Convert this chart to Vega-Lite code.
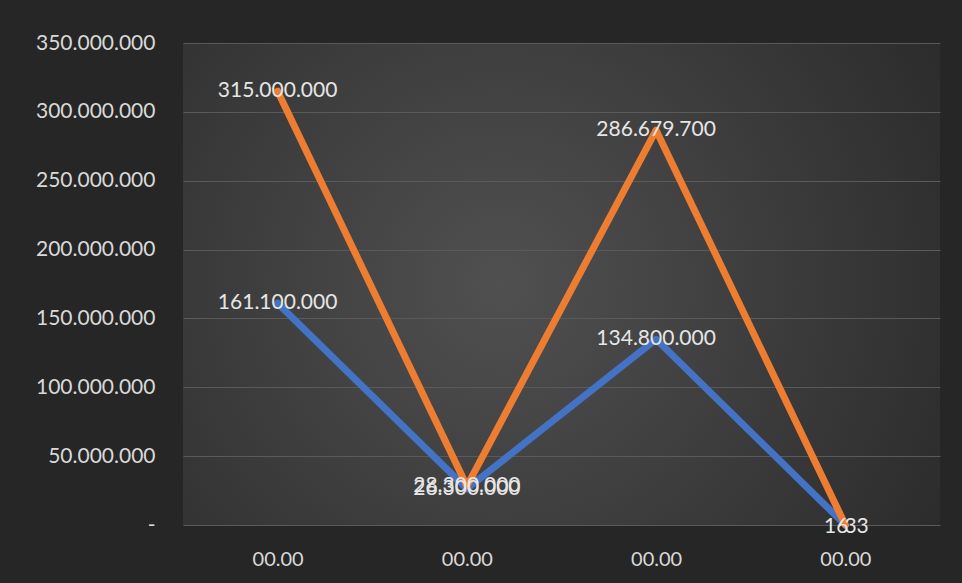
{
  "$schema": "https://vega.github.io/schema/vega-lite/v6.json",
  "width": 757,
  "height": 482,
  "autosize": {"type": "none"},
  "padding": {"left": 183, "top": 43, "right": 22, "bottom": 58},
  "background": "#262626",
  "config": {
    "view": {
      "stroke": null,
      "fill": {
        "gradient": "radial",
        "x1": 0.42, "y1": 0.5, "r1": 0,
        "x2": 0.42, "y2": 0.5, "r2": 0.75,
        "stops": [
          {"offset": 0, "color": "#505050"},
          {"offset": 1, "color": "#272727"}
        ]
      }
    },
    "font": "Lato"
  },
  "data": {
    "values": [
      {"idx": 1, "label": "00.00", "series": "A", "value": 161100000, "text": "161.100.000"},
      {"idx": 2, "label": "00.00", "series": "A", "value": 26300000, "text": "26.300.000"},
      {"idx": 3, "label": "00.00", "series": "A", "value": 134800000, "text": "134.800.000"},
      {"idx": 4, "label": "00.00", "series": "A", "value": 16, "text": "16"},
      {"idx": 1, "label": "00.00", "series": "B", "value": 315000000, "text": "315.000.000"},
      {"idx": 2, "label": "00.00", "series": "B", "value": 28300000, "text": "28.300.000"},
      {"idx": 3, "label": "00.00", "series": "B", "value": 286679700, "text": "286.679.700"},
      {"idx": 4, "label": "00.00", "series": "B", "value": 33, "text": "33"}
    ]
  },
  "encoding": {
    "x": {
      "field": "idx", "type": "ordinal",
      "scale": {"type": "point", "padding": 0.5},
      "axis": {
        "title": null, "labelExpr": "'00.00'", "labelAngle": 0,
        "ticks": false, "domain": false, "grid": false,
        "labelFontSize": 20, "labelColor": "#d9d9d9", "labelPadding": 24, "labelFont": "Lato"
      }
    },
    "y": {
      "field": "value", "type": "quantitative",
      "scale": {"domain": [0, 350000000], "nice": false},
      "axis": {
        "title": null, "values": [0, 50000000, 100000000, 150000000, 200000000, 250000000, 300000000, 350000000],
        "labelExpr": "datum.value == 0 ? '-' : replace(format(datum.value, ',d'), /,/g, '.')",
        "ticks": false, "domain": false, "grid": true,
        "gridColor": "#5a5a5a", "gridWidth": 1,
        "labelFontSize": 21, "labelColor": "#d9d9d9", "labelPadding": 28, "labelFont": "Lato"
      }
    }
  },
  "layer": [
    {
      "mark": {"type": "line", "strokeWidth": 7, "strokeCap": "round", "strokeJoin": "round"},
      "encoding": {
        "color": {
          "field": "series", "type": "nominal",
          "scale": {"domain": ["A", "B"], "range": ["#4472C4", "#ED7D31"]},
          "legend": null
        },
        "order": {"field": "series"}
      }
    },
    {
      "transform": [{"filter": "datum.idx < 4"}],
      "mark": {"type": "text", "fontSize": 21, "color": "#e6e6e6", "align": "center", "baseline": "middle"},
      "encoding": {"text": {"field": "text"}}
    },
    {
      "transform": [{"filter": "datum.idx == 4 && datum.series == 'A'"}],
      "mark": {"type": "text", "fontSize": 21, "color": "#e6e6e6", "align": "right", "baseline": "middle", "dx": 3, "dy": 2},
      "encoding": {"text": {"field": "text"}}
    },
    {
      "transform": [{"filter": "datum.idx == 4 && datum.series == 'B'"}],
      "mark": {"type": "text", "fontSize": 21, "color": "#e6e6e6", "align": "left", "baseline": "middle", "dx": -1, "dy": 2},
      "encoding": {"text": {"field": "text"}}
    }
  ]
}
